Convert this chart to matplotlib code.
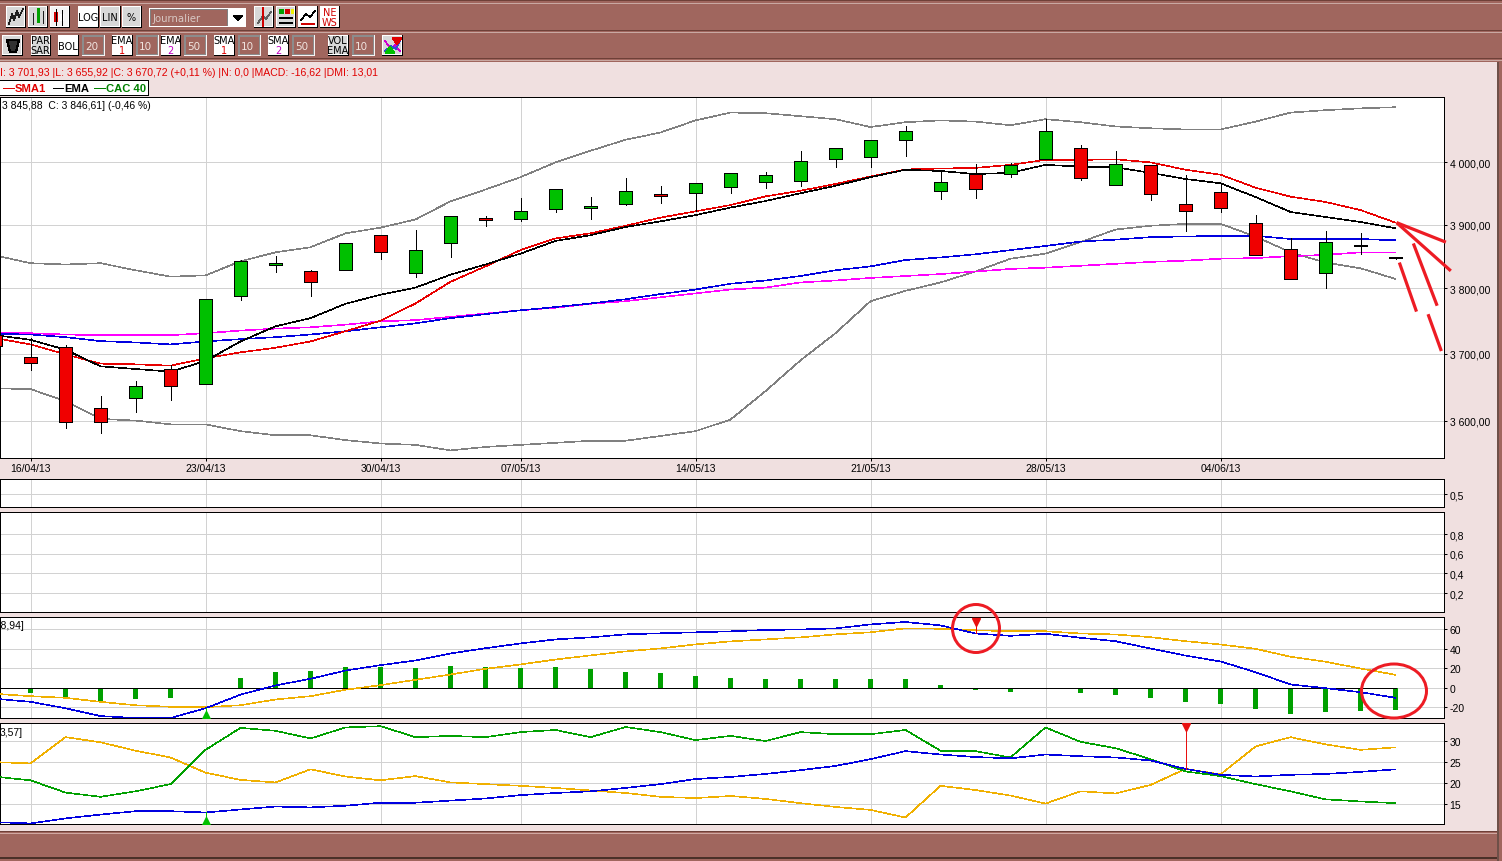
import matplotlib
matplotlib.use("Agg")
from matplotlib import pyplot as plt
from matplotlib.patches import Rectangle, Ellipse, Polygon
from matplotlib.ticker import FuncFormatter, NullLocator

# candles, first one is the day before 16/04 (cut by the left edge)
days = list(range(-1, 40))
opens = [3729, 3695, 3710, 3619, 3634, 3677, 3655, 3788, 3835.5, 3827.5, 3828, 3884, 3824, 3870, 3911,
         3909, 3925, 3926, 3933, 3949, 3951, 3960, 3968, 3970, 4005, 4008, 4036, 3954, 3981, 3981,
         4005, 4023, 3963.5, 3995.5, 3932, 3952, 3903, 3862, 3824, 3866, 3848]
highs = [3729, 3723, 3713, 3637, 3659, 3683, 3783, 3844, 3851, 3829, 3870, 3884, 3890.5, 3914, 3914,
         3942, 3957, 3944, 3974, 3962, 3967, 3983, 3985, 4019, 4023, 4036, 4059, 3986, 3997, 3999,
         4072, 4028, 4019, 3996, 3979.5, 3965, 3915.5, 3879, 3890, 3886, 3849]
lows = [3705, 3675, 3590, 3583, 3612.5, 3630.5, 3655, 3782, 3826, 3788, 3828, 3845, 3818, 3848, 3897,
        3905, 3920, 3908, 3931, 3934, 3922, 3950, 3958, 3962, 3993, 3992, 4010, 3940, 3942, 3976,
        4005, 3971, 3963.5, 3939, 3889.5, 3920, 3852, 3814.5, 3800, 3854, 3845]
closes = [3711, 3686.5, 3598, 3598, 3652, 3652, 3783, 3843, 3840, 3809, 3870, 3856, 3859, 3914, 3907,
          3922, 3957, 3930, 3954, 3945, 3967, 3983, 3980, 4002, 4023, 4036, 4051, 3968, 3957, 3995.5,
          4051, 3975, 3997, 3949, 3922, 3927, 3852, 3814.5, 3873, 3867, 3847]

boll_up = [3851, 3839, 3837, 3839, 3828, 3818, 3820, 3842, 3856, 3864, 3886, 3895, 3908, 3937, 3956,
           3976, 4000, 4019, 4037, 4049, 4069, 4082, 4081, 4076, 4071, 4058, 4066, 4069, 4067, 4061,
           4071, 4066, 4059, 4056, 4054, 4054, 4067, 4082, 4086, 4089, 4091]
boll_low = [3648, 3647, 3629, 3603, 3600.5, 3595, 3595, 3585, 3579, 3579, 3572, 3567, 3565, 3557, 3562,
            3565, 3568, 3571, 3571, 3578, 3585, 3602, 3644, 3690, 3731, 3780, 3796, 3809, 3826, 3846,
            3854, 3872, 3892, 3898, 3901, 3901, 3881, 3856, 3840, 3831, 3814.5]
sma1 = [3723.5, 3714, 3699, 3685, 3684, 3682, 3693, 3702, 3709, 3718.5, 3734, 3750, 3776.5, 3810, 3834,
        3859.5, 3878, 3886, 3898, 3911, 3921, 3931, 3945, 3954, 3965, 3977, 3988.5, 3990, 3991, 3996,
        4004, 4004, 4005, 4000, 3988, 3980, 3959, 3944.5, 3936, 3923, 3903]
ema1 = [3728, 3721, 3706, 3681, 3677, 3673, 3689, 3718.5, 3741.5, 3754, 3776, 3790, 3801, 3821, 3837,
        3854, 3874, 3883, 3896, 3905, 3915, 3927, 3937.5, 3950, 3962, 3976, 3988, 3986, 3981, 3983,
        3996, 3993, 3992, 3983, 3973, 3966, 3944, 3920, 3912, 3904, 3894]
ema2 = [3730, 3729, 3725, 3719, 3717, 3714, 3718.5, 3722, 3725, 3729, 3734, 3740, 3746, 3754, 3760,
        3766, 3771, 3776.5, 3783, 3791, 3798, 3807, 3812, 3819, 3828, 3834, 3844, 3848, 3853, 3859.5,
        3866, 3873, 3876, 3880, 3881, 3882, 3882, 3877, 3877, 3877, 3875]
sma2 = [3732, 3731, 3729, 3728, 3728, 3728, 3731, 3735, 3738, 3740, 3744, 3749, 3751, 3756, 3761,
        3766, 3770, 3776, 3780, 3786, 3792, 3798, 3801, 3809, 3812, 3816, 3819, 3822, 3826, 3830,
        3832, 3835, 3838, 3841, 3843, 3846, 3847, 3850, 3852, 3856, 3856]

# traits rouges dessines a la main sur le graphique
hand_x = [[39.03, 40.44], [39.03, 40.58], [39.51, 40.19], [39.11, 39.6], [39.93, 40.31]]
hand_y = [[3903, 3872], [3903, 3827], [3870, 3773], [3840, 3764], [3760, 3704]]

date_idx = [0, 5, 10, 14, 19, 24, 29, 34]
date_labels = ["16/04/13", "23/04/13", "30/04/13", "07/05/13", "14/05/13", "21/05/13", "28/05/13", "04/06/13"]
price_ticks = [3600, 3700, 3800, 3900, 4000]
mid_ticks = [0.2, 0.4, 0.6, 0.8]
macd_ticks = [-20, 0, 20, 40, 60]
dmi_ticks = [15, 20, 25, 30]

macd_days = list(range(0, 40))
macd_hist = [-5.5, -10, -14, -12, -10, 0, 10.5, 16.7, 17.7, 21.7, 21.7, 20.8, 22.8, 21.7, 20.8, 21.8, 18.8,
             16.7, 14.7, 12.6, 10.5, 8.5, 9.5, 8.5, 8.5, 8.5, 2.4, -2.5, -4.5, -1.4, -5.5, -6.9, -10.6,
             -14.8, -16.8, -22, -27, -25, -24, -23]
macd_line = [-11.3, -14.4, -21, -29, -31, -31, -21, -7, 2.4, 9.2, 17.7, 23.2, 28, 35.2, 40.6, 45.5, 49.6,
             51.7, 54.8, 55.9, 56.9, 57.9, 59.3, 59.8, 60.9, 65, 67.5, 64, 55.7, 53.3, 55.4, 51.3, 47.8,
             40.3, 33, 27, 16, 3.4, -0.4, -4.5, -10.3]
macd_sig = [-6.2, -8.6, -10.3, -14.4, -17.9, -19.5, -19.9, -17.9, -12, -8.6, -2, 2.7, 8.2, 13.6, 19.5, 23.9,
            29, 33.2, 37.3, 40.4, 44.5, 47.6, 49.6, 51.7, 54.8, 56.9, 61, 60.5, 59, 58, 58, 55.7, 54.7,
            51.9, 47.8, 44.4, 40, 31.8, 26.7, 19.8, 13.3]

dmi_plus = [21.45, 20.6, 17.7, 16.7, 18, 19.7, 27.8, 33, 32.3, 30.5, 33.1, 33.4, 30.8, 31.1, 30.8, 32, 32.5,
            30.8, 33.2, 32, 30.1, 31.1, 29.9, 32, 31.5, 31.5, 32.5, 27.6, 27.5, 26, 33.1, 29.7, 28.2,
            25.6, 22.7, 21.6, 19.7, 18, 16.1, 15.6, 15.2]
dmi_minus = [24.9, 24.6, 30.8, 29.6, 27.6, 26, 22.4, 20.7, 20.1, 23.2, 21.5, 20.6, 21.6, 20.1, 19.7, 19.3,
             18.8, 18.2, 17.6, 16.7, 16.4, 16.9, 16.2, 15.2, 14.3, 13.6, 11.8, 19.3, 18.3, 17, 15.1, 18,
             17.5, 19.5, 23.3, 22, 28.6, 30.8, 29.1, 27.8, 28.4]
adx = [10.7, 10.4, 11.6, 12.5, 13.3, 13.3, 13, 13.7, 14.4, 14.2, 14.6, 15.3, 15.3, 15.8, 16.3, 17.1, 17.6,
       18, 18.8, 19.7, 20.9, 21.4, 22.1, 23, 24, 25.6, 27.5, 26.7, 26.1, 25.8, 26.7, 26.3, 26, 25.3,
       23.3, 21.9, 21.5, 21.9, 22.1, 22.6, 23.2]

BROWN = "#a0665e"
PINK = "#f0e0e0"
GRID = "#d2d2d2"
GREEN = "#00c000"
RED = "#f00000"
HAND = "#ed1c24"
ORANGE = "#f0b000"
DGREEN = "#00a000"
BLUE = "#0000e0"
PX = 0.72
THIN = 0.42  # les courbes sans lissage sortent trop grasses a 1 px
TICK_FS = 7.5

plt.rcParams["font.family"] = ["Liberation Sans", "DejaVu Sans"]
plt.rcParams["lines.antialiased"] = False
plt.rcParams["patch.antialiased"] = False

W, H = 1502, 862
fig = plt.figure(figsize=(W / 100, H / 100), dpi=100, facecolor=PINK)

# couche de fond en pixels pour la barre d'outils
bg = fig.add_axes([0, 0, 1, 1], zorder=0)
bg.set_xlim(0, W)
bg.set_ylim(H, 0)
bg.axis("off")


def box(x0, y0, x1, y1, color, ax=bg, z=1):
    ax.add_patch(Rectangle((x0, y0), x1 - x0, y1 - y0, facecolor=color, edgecolor="none", zorder=z))


def button(x0, x1, y0, y1, text=None, face="#d8d8d8", colors=None):
    box(x0, y0, x1, y1, "black")
    box(x0, y0, x1 - 1, y1 - 1, "white")
    box(x0 + 1, y0 + 1, x1 - 2, y1 - 2, face)
    if text:
        rows = text.split("\n")
        n = len(rows)
        for i, row in enumerate(rows):
            c = colors[i] if colors else "black"
            yy = (y0 + y1) / 2 + (i - (n - 1) / 2) * 10
            bg.text((x0 + x1) / 2 - 0.5, yy, row, color=c, fontsize=7, ha="center", va="center",
                    family="DejaVu Sans", zorder=3)


def field(x0, x1, y0, y1, text):
    box(x0, y0, x1, y1, "#f8f4f4")
    box(x0, y0, x1 - 1, y1 - 1, "#8c8c8c")
    box(x0 + 2, y0 + 2, x1 - 2, y1 - 2, BROWN)
    bg.text(x0 + 3, (y0 + y1) / 2, text, color="#f0e4e0", fontsize=7.5, ha="left", va="center",
            family="DejaVu Sans", zorder=3)


def squiggle(xs, ys, color="black", lw=1.0):
    bg.plot(xs, ys, color=color, lw=lw * PX, zorder=4)


# bandeaux bruns haut et bas
box(0, 0, W, 63, BROWN)
box(0, 1, W, 2, "#6e4038")
box(0, 4, W, 5, "#c9a8a2")
box(0, 31, W, 32, "#6e4038")
box(0, 33, W, 34, "#c9a8a2")
box(0, 59, W, 60, "#6e4038")
box(0, 61, W, 62, "#c9a8a2")
box(0, 832, W, 862, BROWN)
box(0, 832, W, 833, "#6e4038")
box(0, 834, W, 835, "#d0a8a2")
box(0, 858, W, 860, "#4a3028")
box(1497, 63, W, 862, BROWN)
box(1497, 63, 1499, 862, "#6e5048")

# premiere rangee de boutons
y0, y1 = 7, 29
button(6, 26, y0, y1)
squiggle([9, 12, 14, 17, 19, 23], [25, 15, 21, 12, 18, 10], "#202020", 0.7)
button(28, 48, y0, y1)
squiggle([33, 33], [14, 25], "#202020", 1)
squiggle([38, 38], [10, 22], "#00a000", 3)
squiggle([43, 43], [12, 24], "#202020", 1)
button(50, 70, y0, y1, face="#f4f4f4")
box(54, 13, 58, 23, "#d00000")
squiggle([56, 56], [10, 26])
box(60, 15, 64, 22, "white")
squiggle([62, 62], [11, 26])
button(78, 99, y0, y1, "LOG", face="white")
button(100, 121, y0, y1, "LIN")
button(122, 142, y0, y1, "%")
box(149, 9, 246, 28, "white")
box(150, 10, 228, 27, "#808080")
box(151, 11, 227, 27, BROWN)
bg.text(153, 18.5, "Journalier", color="#d8c8c4", fontsize=7.3, ha="left", va="center", family="DejaVu Sans", zorder=3)
bg.add_patch(Polygon([[234, 17], [242, 17], [238, 21]], color="black", zorder=3))
button(254, 274, y0, y1)
squiggle([258, 263, 266, 271], [24, 17, 20, 13], "#606060", 0.7)
squiggle([263, 263], [9, 27], "#d00000", 1.5)
button(276, 296, y0, y1)
box(279, 10, 284, 15, "#00a000")
box(285, 10, 290, 15, "#d00000")
box(291, 10, 294, 15, "#f0f000")
box(279, 18, 293, 20, "black")
box(279, 23, 293, 25, "black")
button(298, 318, y0, y1, face="white")
squiggle([301, 306, 310, 315], [21, 15, 18, 12], "black", 0.7)
box(301, 24, 315, 26, "#d00000")
button(320, 340, y0, y1, "NE\nWS", face="white", colors=["#d00000", "#d00000"])

# deuxieme rangee
y0, y1 = 36, 57
button(2, 23, y0, y1)
bg.add_patch(Polygon([[7, 41], [19, 41], [16, 53], [10, 53]], facecolor="#303030", edgecolor="black", zorder=3))
button(31, 51, y0, y1, "PAR\nSAR")
button(58, 79, y0, y1, "BOL", face="white")
field(82, 105, y0, y1, "20")
button(112, 133, y0, y1, "EMA\n1", face="white", colors=["black", "#e00000"])
field(136, 159, y0, y1, "10")
button(161, 181, y0, y1, "EMA\n2", face="white", colors=["black", "#c000c0"])
field(184, 207, y0, y1, "50")
button(214, 235, y0, y1, "SMA\n1", face="white", colors=["black", "#e00000"])
field(238, 261, y0, y1, "10")
button(268, 289, y0, y1, "SMA\n2", face="white", colors=["black", "#c000c0"])
field(292, 315, y0, y1, "50")
button(328, 349, y0, y1, "VOL\nEMA")
field(352, 375, y0, y1, "10")
button(382, 403, y0, y1)
squiggle([385, 391, 395, 400], [42, 50, 46, 52], "#d000d0", 0.7)
squiggle([385, 391, 396, 400], [52, 47, 50, 42], "#3050d0", 0.7)
bg.add_patch(Polygon([[386, 54], [394, 54], [390, 48]], color="#00c000", zorder=5))
bg.add_patch(Polygon([[393, 39], [401, 39], [397, 45]], color="#e00000", zorder=5))

bg.text(0, 73.5, "I: 3 701,93 |L: 3 655,92 |C: 3 670,72 (+0,11 %) |N: 0,0 |MACD: -16,62 |DMI: 13,01",
        color="#e00000", fontsize=7.6, ha="left", va="center", zorder=3)

# legende
box(-1, 81, 149, 97, "black")
box(-1, 82, 148, 96, "white")
bg.plot([3, 14], [89, 89], color="#e00000", lw=PX, zorder=3)
bg.text(15, 89, "SMA1", color="#e00000", fontsize=8.1, fontweight="bold", va="center", zorder=3)
bg.plot([53, 63], [89, 89], color="black", lw=PX, zorder=3)
bg.text(64, 89, "EMA", color="black", fontsize=8.1, fontweight="bold", va="center", zorder=3)
bg.plot([94, 105], [89, 89], color="#008000", lw=PX, zorder=3)
bg.text(106, 89, "CAC 40", color="#008000", fontsize=8.1, fontweight="bold", va="center", zorder=3)


def panel(top, bottom, left=0, right=1444):
    ax = fig.add_axes([left / W, 1 - bottom / H, (right - left) / W, (bottom - top) / H], zorder=2)
    ax.set_facecolor("white")
    ax.set_xlim(-30.5 / 35, (1444 - 30.5) / 35)
    ax.yaxis.tick_right()
    ax.set_xticks(date_idx)
    ax.tick_params(axis="x", length=0, labelbottom=False)
    ax.tick_params(axis="y", length=2.5, width=PX, labelsize=TICK_FS, pad=1.5, colors="black")
    ax.grid(True, color=GRID, lw=PX)
    ax.set_axisbelow(True)
    for s in ax.spines.values():
        s.set_linewidth(PX)
        s.set_color("black")
    return ax


def comma(v, pos=None):
    return f"{v:.1f}".replace(".", ",")


# graphique principal
main = panel(98, 459)
main.set_yscale("log")
main.set_ylim(3546, 4108)
main.set_yticks(price_ticks)
main.yaxis.set_minor_locator(NullLocator())
main.yaxis.set_major_formatter(FuncFormatter(lambda v, p: f"{v:,.2f}".replace(",", " ").replace(".", ",")))
main.tick_params(axis="x", length=2.5, width=PX, labelbottom=True, labelsize=TICK_FS, pad=1)
main.set_xticklabels(date_labels)

main.plot(days, boll_up, color="#808080", lw=THIN, zorder=2)
main.plot(days, boll_low, color="#808080", lw=THIN, zorder=2)
main.plot(days, sma2, color="#ff00ff", lw=THIN, zorder=2)
main.plot(days, ema2, color=BLUE, lw=THIN, zorder=2)
main.plot(days, sma1, color="#e80000", lw=THIN, zorder=2)
main.plot(days, ema1, color="black", lw=THIN, zorder=2)

for d, o, h, l, c in zip(days, opens, highs, lows, closes):
    main.plot([d, d], [l, h], color="black", lw=PX, zorder=3)
    main.bar(d, abs(c - o), bottom=min(o, c), width=0.35, color=GREEN if c >= o else RED,
             edgecolor="black", linewidth=PX, zorder=4)

for hx, hy in zip(hand_x, hand_y):
    main.plot(hx, hy, color=HAND, lw=3.2 * PX, clip_on=False, zorder=8, antialiased=True,
              solid_capstyle="butt")

main.text(0.0015, 0.978, "3 845,88  C: 3 846,61] (-0,46 %)", transform=main.transAxes, fontsize=TICK_FS,
          ha="left", va="center")

# deux panneaux vides
p2 = panel(480, 508)
p2.set_ylim(0, 1.077)
p2.set_yticks([0.5])
p2.yaxis.set_major_formatter(FuncFormatter(comma))

p3 = panel(513, 613)
p3.set_ylim(0.007, 1.024)
p3.set_yticks(mid_ticks)
p3.yaxis.set_major_formatter(FuncFormatter(comma))

# MACD
p4 = panel(618.3, 719.3)
p4.set_ylim(-31.3, 72.3)
p4.set_yticks(macd_ticks)
p4.set_yticklabels([str(v) for v in macd_ticks])
p4.bar(macd_days, macd_hist, width=0.17, color=DGREEN, zorder=2)
p4.plot([-1, 39], [0, 0], color="black", lw=PX, zorder=3)
p4.plot(days, macd_sig, color=ORANGE, lw=THIN, zorder=4)
p4.plot(days, macd_line, color=BLUE, lw=THIN, zorder=5)
p4.plot([5, 5], [-21, -30], color=GREEN, lw=PX, zorder=6)
p4.plot([5], [-27.5], marker="^", ms=5.5, color=GREEN, mec=GREEN, zorder=6)
p4.plot([27, 27], [55.7, 68], color=RED, lw=PX, zorder=6)
p4.plot([27], [67.5], marker="v", ms=5.5, color="#e81010", mec="#e81010", zorder=6)
p4.text(-0.0015, 0.925, "-8,94]", transform=p4.transAxes, fontsize=TICK_FS, ha="left", va="center")

# DMI
p5 = panel(724.3, 825.3)
p5.set_ylim(10.2, 34.08)
p5.set_yticks(dmi_ticks)
p5.set_yticklabels([str(v) for v in dmi_ticks])
p5.plot(days, dmi_minus, color=ORANGE, lw=THIN, zorder=3)
p5.plot(days, dmi_plus, color=DGREEN, lw=THIN, zorder=4)
p5.plot(days, adx, color=BLUE, lw=THIN, zorder=5)
p5.plot([5, 5], [13, 11], color=GREEN, lw=PX, zorder=6)
p5.plot([5], [11], marker="^", ms=5.5, color=GREEN, mec=GREEN, zorder=6)
p5.plot([33, 33], [23.3, 33.5], color="#e81010", lw=PX, zorder=6)
p5.plot([33], [33.2], marker="v", ms=5.5, color="#e81010", mec="#e81010", zorder=6)
p5.text(0.0, 0.915, "3,57]", transform=p5.transAxes, fontsize=TICK_FS, ha="left", va="center")

# cercles rouges
over = fig.add_axes([0, 0, 1, 1], zorder=10)
over.set_xlim(0, W)
over.set_ylim(H, 0)
over.axis("off")
over.patch.set_alpha(0)
over.add_patch(Ellipse((976, 629.5), 47, 48, fill=False, edgecolor=HAND, lw=3 * PX, antialiased=True))
over.add_patch(Ellipse((1394, 692), 65, 54, fill=False, edgecolor=HAND, lw=3 * PX, antialiased=True))

fig.savefig("out.png", dpi=100, facecolor=PINK)
